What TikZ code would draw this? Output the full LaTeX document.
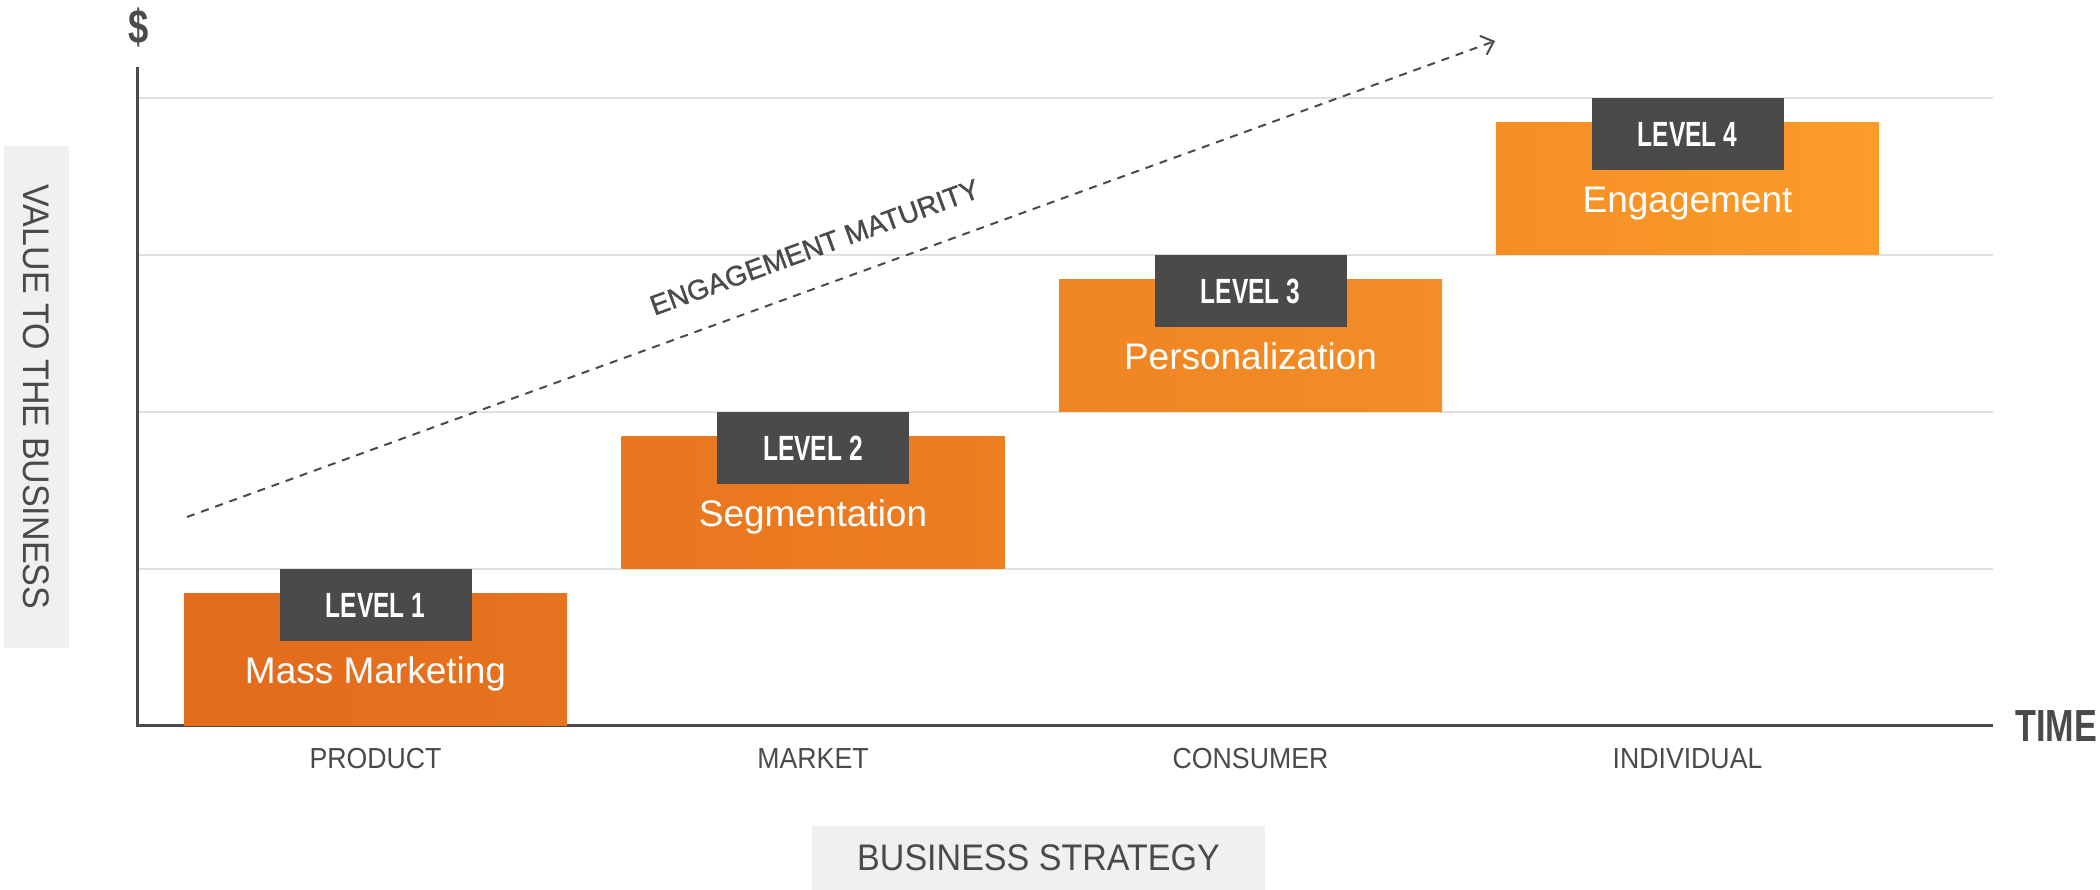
\documentclass[tikz,border=0pt]{standalone}
\usepackage{fontspec}
\setmainfont{Liberation Sans}
\newfontfamily\condb[FakeStretch=0.70]{Liberation Sans Bold}
\newfontfamily\condc[FakeStretch=0.76]{Liberation Sans Bold}
\newfontfamily\narrowf[FakeStretch=0.92]{Liberation Sans}
\newfontfamily\semib[FakeBold=1.2]{Liberation Sans}
\usetikzlibrary{arrows.meta}
\definecolor{ink}{HTML}{4A4A4A}
\definecolor{gridc}{HTML}{E0E0E0}
\definecolor{lightg}{HTML}{F0F0F0}
\definecolor{oa1}{HTML}{E26B1E}\definecolor{ob1}{HTML}{E6731F}
\definecolor{oa2}{HTML}{E9761F}\definecolor{ob2}{HTML}{ED7E22}
\definecolor{oa3}{HTML}{EF8523}\definecolor{ob3}{HTML}{F38D27}
\definecolor{oa4}{HTML}{F58F25}\definecolor{ob4}{HTML}{FC9C2A}
\begin{document}
\begin{tikzpicture}[x=1pt,y=1pt,
  gridline/.style={draw=gridc, line width=2pt},
  axisline/.style={draw=ink, line width=3pt},
  levelbox/.style={minimum width=383pt, minimum height=132pt, inner sep=0pt, anchor=south west},
  tagbox/.style={fill=ink, minimum width=192pt, minimum height=72pt, inner sep=0pt, anchor=north, text=white, font=\condb\fontsize{35}{40}\selectfont},
  bodytext/.style={text=white, font=\fontsize{37}{40}\selectfont, anchor=base, inner sep=0pt},
  cat/.style={text=ink, font=\narrowf\fontsize{29}{32}\selectfont, inner sep=0pt},
  graybox/.style={fill=lightg, inner sep=0pt, text=ink, font=\narrowf\fontsize{37}{40}\selectfont},
  bigbold/.style={text=ink, inner sep=0pt, font=\condc\fontsize{45}{50}\selectfont},
  maturity/.style={draw=ink, line width=2pt, dash pattern=on 8pt off 7pt, -{Straight Barb[length=11pt,width=20pt,line width=2pt]}}
]
\useasboundingbox (0,0) rectangle (2100,890);

% grid lines
\foreach \yy in {321,478,635,792}{
  \draw[gridline] (137,\yy) -- (1993,\yy);
}

% axes
\coordinate (ytop) at (137,823);
\coordinate (orig) at (137,164);
\coordinate (xend) at (1993,164);
\draw[axisline] (ytop) -- (orig) -- (xend);

\node[bigbold, font=\condc\fontsize{48}{50}\selectfont] (dollar) at (139,863) {\$};
\node[bigbold, anchor=west] (time) at (2015,164) {TIME};

% level boxes
\node[levelbox, left color=oa1, right color=ob1] (b1) at (184,164) {};
\node[levelbox, left color=oa2, right color=ob2] (b2) at (621.5,321) {};
\node[levelbox, left color=oa3, right color=ob3] (b3) at (1059,478) {};
\node[levelbox, left color=oa4, right color=ob4] (b4) at (1496,635) {};

\node[tagbox] (t1) at (375.5,321) {LEVEL 1};
\node[tagbox] (t2) at (813,478) {LEVEL 2};
\node[tagbox] (t3) at (1250.5,635) {LEVEL 3};
\node[tagbox] (t4) at (1687.5,792) {LEVEL 4};

\node[bodytext] (m1) at (375.5,206) {Mass Marketing};
\node[bodytext] (m2) at (813,363) {Segmentation};
\node[bodytext] (m3) at (1250.5,520) {Personalization};
\node[bodytext] (m4) at (1687.5,677) {Engagement};

% categories
\node[cat] (c1) at (375.5,131) {PRODUCT};
\node[cat] (c2) at (813,131) {MARKET};
\node[cat] (c3) at (1250.5,131) {CONSUMER};
\node[cat] (c4) at (1687.5,131) {INDIVIDUAL};

% axis titles
\node[graybox, rotate=-90, minimum width=502pt, minimum height=65pt] (vlabel) at (36.5,493) {VALUE TO THE BUSINESS};
\node[graybox, minimum width=453pt, minimum height=64pt] (hlabel) at (1038.5,32) {BUSINESS STRATEGY};

% maturity arrow
\coordinate (as) at (187,373);
\coordinate (ae) at (1495,849);
\draw[maturity] (as) -- node[sloped, pos=0.49, above=28pt, inner sep=0pt, text=ink, font=\semib\fontsize{28}{30}\selectfont] (emtext) {ENGAGEMENT MATURITY} (ae);
\end{tikzpicture}
\end{document}
